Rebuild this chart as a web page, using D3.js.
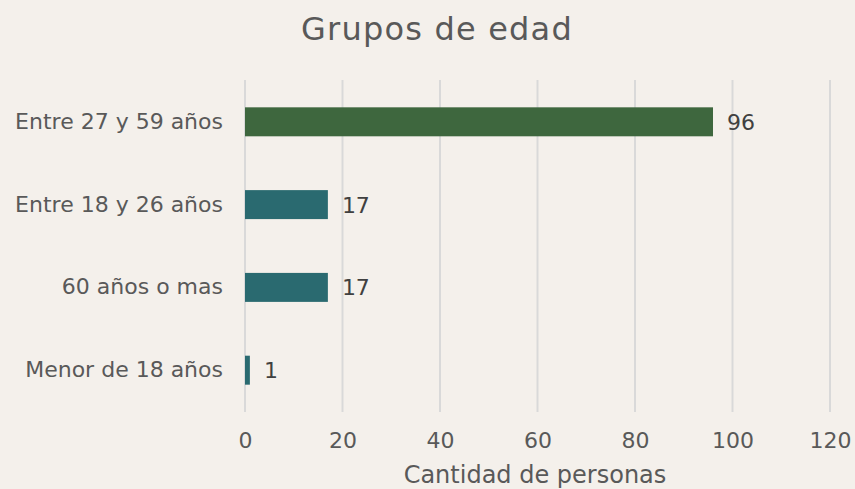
<!DOCTYPE html>
<html>
<head>
<meta charset="utf-8">
<script src="https://cdn.jsdelivr.net/npm/d3@7"></script>
<style>
  body { margin: 0; background: #f4f0eb; }
  svg { display: block; font-family: "DejaVu Sans", Verdana, sans-serif; }
</style>
</head>
<body>
<div id="chart"></div>
<script>
const categories = ["Entre 27 y 59 años", "Entre 18 y 26 años", "60 años o mas", "Menor de 18 años"];
const values = [96, 17, 17, 1];
const barColors = ["#3e673e", "#2a6a70", "#2a6a70", "#2a6a70"];
const xTicks = [0, 20, 40, 60, 80, 100, 120];

const width = 855, height = 489;
const margin = { top: 80, right: 25, bottom: 77, left: 245 };

const svg = d3.select("#chart")
  .append("svg")
  .attr("width", width)
  .attr("height", height);

svg.append("rect")
  .attr("width", width)
  .attr("height", height)
  .attr("fill", "#f4f0eb");

const x = d3.scaleLinear()
  .domain([0, 120])
  .range([margin.left, 830]);

const y = d3.scaleBand()
  .domain(categories)
  .range([margin.top, height - margin.bottom])
  .paddingInner(0.65)
  .paddingOuter(0.33);

/** Title */
svg.append("text")
  .attr("x", 437)
  .attr("y", 40)
  .attr("text-anchor", "middle")
  .attr("fill", "#595959")
  .style("font-size", "32px")
  .style("letter-spacing", "1.2px")
  .text("Grupos de edad");

/** Gridlines */
svg.append("g")
  .selectAll("line")
  .data(xTicks)
  .enter()
  .append("line")
  .attr("x1", d => x(d))
  .attr("x2", d => x(d))
  .attr("y1", margin.top)
  .attr("y2", height - margin.bottom)
  .attr("stroke", "#d9d9d9")
  .attr("stroke-width", 2);

/** Bars */
svg.append("g")
  .selectAll("rect")
  .data(values)
  .enter()
  .append("rect")
  .attr("x", x(0))
  .attr("y", (d, i) => y(categories[i]))
  .attr("width", d => x(d) - x(0))
  .attr("height", y.bandwidth())
  .attr("fill", (d, i) => barColors[i]);

/** Data labels */
svg.append("g")
  .selectAll("text")
  .data(values)
  .enter()
  .append("text")
  .attr("x", d => x(d) + 14)
  .attr("y", (d, i) => y(categories[i]) + y.bandwidth() / 2)
  .attr("dy", "0.36em")
  .attr("fill", "#404040")
  .style("font-size", "22px")
  .text(d => d);

/** Category axis */
const yAxis = d3.axisLeft(y).tickSize(0).tickPadding(22);
svg.append("g")
  .attr("transform", "translate(" + margin.left + ",0)")
  .call(yAxis)
  .call(g => g.select(".domain").remove())
  .selectAll("text")
  .attr("fill", "#595959")
  .style("font-size", "22px")
  .style("font-family", "DejaVu Sans, Verdana, sans-serif");

/** Value axis */
const xAxis = d3.axisBottom(x).tickValues(xTicks).tickSize(0).tickPadding(20);
svg.append("g")
  .attr("transform", "translate(0," + (height - margin.bottom) + ")")
  .call(xAxis)
  .call(g => g.select(".domain").remove())
  .selectAll("text")
  .attr("fill", "#595959")
  .style("font-size", "22px")
  .style("font-family", "DejaVu Sans, Verdana, sans-serif");

svg.append("text")
  .attr("x", 535)
  .attr("y", 483)
  .attr("text-anchor", "middle")
  .attr("fill", "#595959")
  .style("font-size", "24px")
  .text("Cantidad de personas");
</script>
</body>
</html>
